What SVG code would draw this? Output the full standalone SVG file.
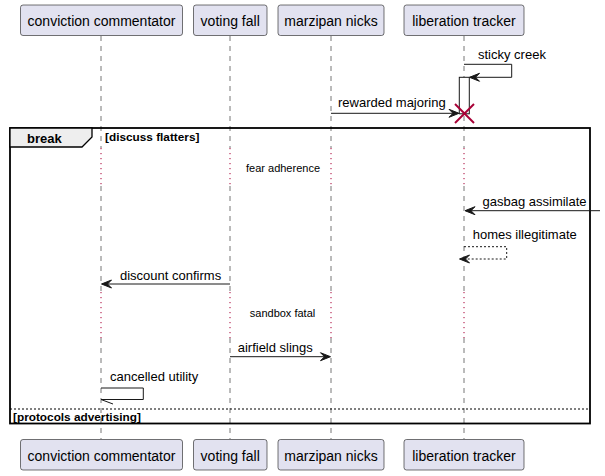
<svg xmlns="http://www.w3.org/2000/svg" width="605" height="476" viewBox="0 0 605 476">
<style>
.pbox{fill:#E2E2F0;stroke:#181818;stroke-width:0.6}
.ptxt{font-family:"Liberation Sans",Arial,sans-serif;font-size:14px;fill:#000;text-anchor:middle}
.life{stroke:#777;stroke-width:1;stroke-dasharray:5,5;fill:none}
.delay{stroke:#A80036;stroke-width:1;stroke-dasharray:1.2,3.8;fill:none}
.msg{stroke:#181818;stroke-width:1;fill:none}
.dash{stroke-dasharray:2,2}
.head{fill:#181818;stroke:#181818;stroke-width:1}
.mtxt{font-family:"Liberation Sans",Arial,sans-serif;font-size:13px;fill:#000}
.dtxt{font-family:"Liberation Sans",Arial,sans-serif;font-size:11px;fill:#000;text-anchor:middle}
.gtxt{font-family:"Liberation Sans",Arial,sans-serif;font-size:11.8px;font-weight:bold;fill:#000}
</style>
<rect width="605" height="476" fill="#FFFFFF"/>
<g id="lifelines">
<g id="life-conviction">
<line class="life" x1="101" y1="36" x2="101" y2="148"/>
<line class="delay" x1="101" y1="148" x2="101" y2="186"/>
<line class="life" x1="101" y1="186" x2="101" y2="292"/>
<line class="delay" x1="101" y1="292" x2="101" y2="338"/>
<line class="life" x1="101" y1="338" x2="101" y2="439"/>
</g>
<g id="life-voting">
<line class="life" x1="230" y1="36" x2="230" y2="148"/>
<line class="delay" x1="230" y1="148" x2="230" y2="186"/>
<line class="life" x1="230" y1="186" x2="230" y2="292"/>
<line class="delay" x1="230" y1="292" x2="230" y2="338"/>
<line class="life" x1="230" y1="338" x2="230" y2="439"/>
</g>
<g id="life-marzipan">
<line class="life" x1="331" y1="36" x2="331" y2="148"/>
<line class="delay" x1="331" y1="148" x2="331" y2="186"/>
<line class="life" x1="331" y1="186" x2="331" y2="292"/>
<line class="delay" x1="331" y1="292" x2="331" y2="338"/>
<line class="life" x1="331" y1="338" x2="331" y2="439"/>
</g>
<g id="life-liberation">
<line class="life" x1="464" y1="36" x2="464" y2="148"/>
<line class="delay" x1="464" y1="148" x2="464" y2="186"/>
<line class="life" x1="464" y1="186" x2="464" y2="292"/>
<line class="delay" x1="464" y1="292" x2="464" y2="338"/>
<line class="life" x1="464" y1="338" x2="464" y2="439"/>
</g>
</g>
<g id="frame-break">
<rect x="10" y="128" width="580" height="295.5" fill="none" stroke="#000" stroke-width="1.8"/>
<path d="M10,128 H92 V137 L82,147 H10 Z" fill="#EEEEEE" stroke="#000" stroke-width="1.3"/>
<text x="27" y="143" font-family="'Liberation Sans',Arial,sans-serif" font-size="13" font-weight="bold">break</text>
<text class="gtxt" x="105" y="141">[discuss flatters]</text>
<line x1="10" y1="409" x2="590" y2="409" stroke="#000" stroke-width="1" stroke-dasharray="2,2"/>
<text class="gtxt" x="13" y="420.5">[protocols advertising]</text>
</g>
<g id="participants-top">
<g id="p-conviction"><rect class="pbox" x="20.5" y="5" width="162" height="30.5" rx="2.5"/><text class="ptxt" x="101.5" y="25.5">conviction commentator</text></g>
<g id="p-voting"><rect class="pbox" x="193.5" y="5" width="73.5" height="30.5" rx="2.5"/><text class="ptxt" x="230.2" y="25.5">voting fall</text></g>
<g id="p-marzipan"><rect class="pbox" x="278" y="5" width="106" height="30.5" rx="2.5"/><text class="ptxt" x="331" y="25.5">marzipan nicks</text></g>
<g id="p-liberation"><rect class="pbox" x="404" y="5" width="120" height="30.5" rx="2.5"/><text class="ptxt" x="464" y="25.5">liberation tracker</text></g>
</g>
<g id="participants-bottom">
<g id="pb-conviction"><rect class="pbox" x="20.5" y="439.5" width="162" height="30.5" rx="2.5"/><text class="ptxt" x="101.5" y="460.5">conviction commentator</text></g>
<g id="pb-voting"><rect class="pbox" x="193.5" y="439.5" width="73.5" height="30.5" rx="2.5"/><text class="ptxt" x="230.2" y="460.5">voting fall</text></g>
<g id="pb-marzipan"><rect class="pbox" x="278" y="439.5" width="106" height="30.5" rx="2.5"/><text class="ptxt" x="331" y="460.5">marzipan nicks</text></g>
<g id="pb-liberation"><rect class="pbox" x="404" y="439.5" width="120" height="30.5" rx="2.5"/><text class="ptxt" x="464" y="460.5">liberation tracker</text></g>
</g>
<g id="activation">
<rect x="459.3" y="77.3" width="10" height="36.5" fill="#FFFFFF" stroke="#181818" stroke-width="1"/>
</g>
<g id="connectors">
<g id="m-sticky">
<path class="msg" d="M464,64.3 H511.7 V77.3 H470"/>
<polygon class="head" points="469.5,77.3 479.5,73.3 475.5,77.3 479.5,81.3"/>
<text class="mtxt" x="478" y="59">sticky creek</text>
</g>
<g id="m-rewarded">
<line class="msg" x1="331" y1="113.3" x2="458" y2="113.3"/>
<polygon class="head" points="459,113.3 449,109.3 453,113.3 449,117.3"/>
<text class="mtxt" x="338" y="106.5">rewarded majoring</text>
</g>
<g id="destroy">
<line x1="455" y1="104" x2="474" y2="123" stroke="#A80036" stroke-width="2"/>
<line x1="474" y1="104" x2="455" y2="123" stroke="#A80036" stroke-width="2"/>
</g>
<text class="dtxt" x="283" y="172">fear adherence</text>
<g id="m-gasbag">
<line class="msg" x1="600" y1="210.7" x2="466" y2="210.7"/>
<polygon class="head" points="465,210.7 475,206.7 471,210.7 475,214.7"/>
<text class="mtxt" x="482.5" y="206">gasbag assimilate</text>
</g>
<g id="m-homes">
<path class="msg dash" d="M464,246.7 H506.7 V259 H461"/>
<polygon class="head" points="459.5,259 469.5,255 465.5,259 469.5,263"/>
<text class="mtxt" x="472.7" y="239">homes illegitimate</text>
</g>
<g id="m-discount">
<line class="msg" x1="230" y1="284" x2="103" y2="284"/>
<polygon class="head" points="101.5,284 111.5,280 107.5,284 111.5,288"/>
<text class="mtxt" x="120" y="280">discount confirms</text>
</g>
<text class="dtxt" x="282.5" y="317">sandbox fatal</text>
<g id="m-airfield">
<line class="msg" x1="230" y1="356.7" x2="329" y2="356.7"/>
<polygon class="head" points="330.5,356.7 320.5,352.7 324.5,356.7 320.5,360.7"/>
<text class="mtxt" x="237.7" y="351.5">airfield slings</text>
</g>
<g id="m-cancelled">
<path class="msg" d="M101,388 H143.3 V399.5 H101"/>
<line class="msg" x1="101" y1="399.5" x2="113" y2="404"/>
<text class="mtxt" x="110" y="381">cancelled utility</text>
</g>
</g>
</svg>
